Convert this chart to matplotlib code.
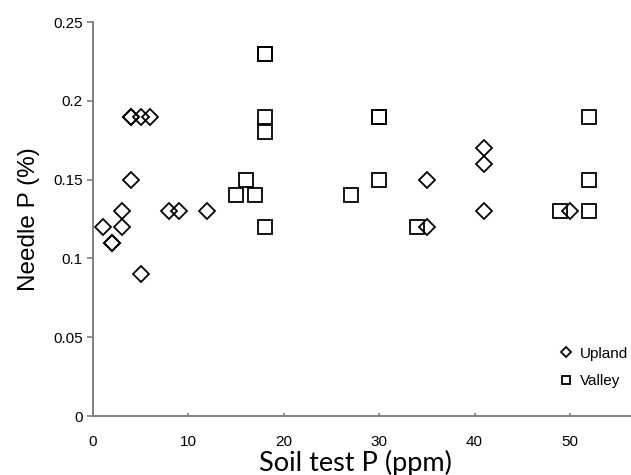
"""Needle P versus soil test P for upland and valley sites."""

import matplotlib

matplotlib.use("Agg")
import matplotlib.pyplot as plt

UPLAND_X = [1, 2, 2, 3, 3, 4, 4, 4, 5, 5, 6, 8, 9, 12, 35, 35, 41, 41, 41, 50]
UPLAND_Y = [0.12, 0.11, 0.11, 0.13, 0.12, 0.19, 0.19, 0.15, 0.19, 0.09, 0.19,
            0.13, 0.13, 0.13, 0.15, 0.12, 0.17, 0.16, 0.13, 0.13]

VALLEY_X = [15, 16, 17, 18, 18, 18, 18, 18, 27, 30, 30, 30, 34, 49, 52, 52, 52]
VALLEY_Y = [0.14, 0.15, 0.14, 0.23, 0.23, 0.19, 0.18, 0.12, 0.14, 0.19, 0.19,
            0.15, 0.12, 0.13, 0.19, 0.15, 0.13]

X_TICKS = [0, 10, 20, 30, 40, 50]
Y_TICKS = [0, 0.05, 0.1, 0.15, 0.2, 0.25]
Y_TICK_LABELS = ["0", "0.05", "0.1", "0.15", "0.2", "0.25"]

TICK_FONT = "Liberation Sans"
AXIS_GREY = "#808080"

fig = plt.figure(figsize=(6.31, 4.75), dpi=100)
axis = fig.add_axes([93 / 631, 59 / 475, 538 / 631, 394 / 475])

axis.plot(UPLAND_X, UPLAND_Y, linestyle="none", marker="D", markersize=7.8,
          markerfacecolor="none", markeredgecolor="black", markeredgewidth=1.3,
          label="Upland", clip_on=False)
axis.plot(VALLEY_X, VALLEY_Y, linestyle="none", marker="s", markersize=10,
          markerfacecolor="none", markeredgecolor="black", markeredgewidth=1.3,
          label="Valley", clip_on=False)

axis.set_xlim(0, 56.4)
axis.set_ylim(0, 0.25)
axis.set_xticks(X_TICKS, [str(t) for t in X_TICKS])
axis.set_yticks(Y_TICKS, Y_TICK_LABELS)

for side in ["top", "right"]:
    axis.spines[side].set_visible(False)
for side in ["left", "bottom"]:
    axis.spines[side].set_color(AXIS_GREY)
    axis.spines[side].set_linewidth(1.4)

axis.tick_params(axis="y", direction="out", length=4.5, width=1.2,
                 color=AXIS_GREY, pad=3, labelsize=11)
axis.tick_params(axis="x", direction="in", length=2.5, width=1.2,
                 color=AXIS_GREY, pad=14, labelsize=11)
for label in axis.get_xticklabels() + axis.get_yticklabels():
    label.set_fontfamily(TICK_FONT)

axis.set_xlabel("Soil test P (ppm)", fontsize=19.5, family="Lato")
axis.xaxis.set_label_coords(0.487, -0.086)
axis.set_ylabel("Needle P (%)", fontsize=17.5, family=TICK_FONT, labelpad=9)

axis.legend(loc="lower right", bbox_to_anchor=(1.02, 0.035), frameon=False,
            markerscale=0.6, handlelength=0.8, handletextpad=0.5,
            labelspacing=0.9, prop={"family": TICK_FONT, "size": 11})

fig.savefig("out.png", dpi=100)
